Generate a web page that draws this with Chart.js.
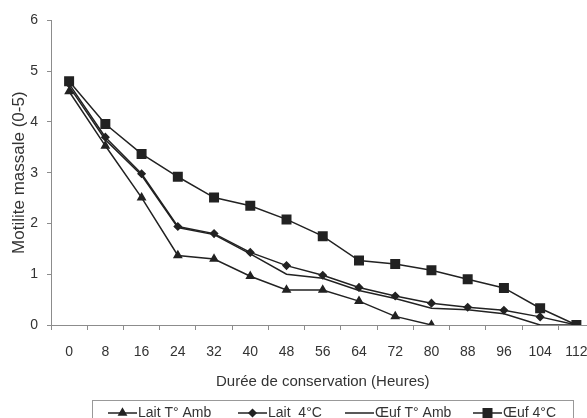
<!DOCTYPE html>
<html>
<head>
<meta charset="utf-8">
<script src="https://cdn.jsdelivr.net/npm/chart.js@4"></script>
<style>
  html, body { margin: 0; padding: 0; background: #fff; overflow: hidden; }
  #wrap { width: 602px; height: 415px; padding-top: 3px; }
</style>
</head>
<body>
<div id="wrap"><canvas id="motiliteChart" width="602" height="415"></canvas></div>
<script>
// heures de conservation
const heures = ['0', '8', '16', '24', '32', '40', '48', '56', '64', '72', '80', '88', '96', '104', '112'];
const laitAmb = [4.6, 3.53, 2.51, 1.37, 1.3, 0.96, 0.69, 0.69, 0.47, 0.17, 0, null, null, null, null];
const lait4 = [4.75, 3.7, 2.98, 1.94, 1.8, 1.43, 1.17, 0.98, 0.74, 0.57, 0.43, 0.35, 0.29, 0.16, 0];
const oeufAmb = [4.7, 3.65, 2.95, 1.92, 1.78, 1.4, 1.0, 0.92, 0.68, 0.52, 0.33, 0.3, 0.22, 0, 0];
const oeuf4 = [4.8, 3.96, 3.37, 2.92, 2.51, 2.35, 2.08, 1.75, 1.27, 1.2, 1.08, 0.9, 0.73, 0.33, 0];
const yTicks = [0, 1, 2, 3, 4, 5, 6];

const FONT = 'Liberation Sans, Arial, sans-serif';
const INK = '#222';

// legende dessinee a la main (ligne + marqueur comme dans Excel)
const legendBox = {
    id: 'legendBox',
    afterDraw(chart) {
        const ctx = chart.ctx;
        ctx.save();
        ctx.strokeStyle = '#999';
        ctx.lineWidth = 1;
        ctx.strokeRect(92.5, 397.5, 481, 30);
        ctx.font = '14px ' + FONT;
        ctx.textBaseline = 'middle';
        const xs = [108, 238, 345, 473];
        const y = 410;
        chart.data.datasets.forEach((ds, i) => {
            const x = xs[i];
            ctx.strokeStyle = INK;
            ctx.lineWidth = 1.5;
            ctx.beginPath();
            ctx.moveTo(x, y);
            ctx.lineTo(x + 29, y);
            ctx.stroke();
            if (ds.pointRadius > 0) {
                ctx.fillStyle = INK;
                Chart.helpers.drawPoint(ctx, {
                    pointStyle: ds.pointStyle,
                    radius: ds.pointRadius,
                    borderWidth: 1
                }, x + 14.5, y);
            }
            ctx.fillStyle = '#333';
            ctx.fillText(ds.label, x + 30, y);
        });
        ctx.restore();
    }
};

function serie(label, data, style, radius) {
    return {
        label: label,
        data: data,
        borderColor: INK,
        backgroundColor: INK,
        borderWidth: 1.5,
        pointStyle: style,
        pointRadius: radius,
        pointBorderColor: INK,
        pointBackgroundColor: INK,
        tension: 0,
        spanGaps: false
    };
}

new Chart(document.getElementById('motiliteChart').getContext('2d'), {
    type: 'line',
    data: {
        labels: heures,
        datasets: [
            serie('Lait T° Amb', laitAmb, 'triangle', 4.2),
            serie('Lait  4°C', lait4, 'rectRot', 3.5),
            serie('Œuf T° Amb', oeufAmb, 'circle', 0),
            serie('Œuf 4°C', oeuf4, 'rect', 6)
        ]
    },
    options: {
        responsive: false,
        animation: false,
        layout: { padding: { left: 0, top: 15, right: 3, bottom: 27 } },
        plugins: {
            legend: { display: false },
            tooltip: { enabled: false }
        },
        scales: {
            x: {
                type: 'category',
                offset: true,
                afterFit: axis => { axis.height = 66; },
                border: { color: '#8c8c8c', width: 1 },
                grid: { offset: true, drawOnChartArea: false, tickLength: 5, color: '#8c8c8c' },
                ticks: { color: '#333', font: { family: FONT, size: 14 }, padding: 14, maxRotation: 0, autoSkip: false },
                title: {
                    display: true,
                    text: 'Durée de conservation (Heures)',
                    color: '#333',
                    font: { family: FONT, size: 15 },
                    padding: { top: 0, bottom: 0 }
                }
            },
            y: {
                min: 0,
                max: 6,
                afterBuildTicks: axis => { axis.ticks = yTicks.map(v => ({ value: v })); },
                afterFit: axis => { axis.width = 51; },
                border: { color: '#8c8c8c', width: 1 },
                grid: { drawOnChartArea: false, tickLength: 4, color: '#8c8c8c' },
                ticks: { color: '#333', font: { family: FONT, size: 14 }, padding: 9 },
                title: {
                    display: true,
                    text: 'Motilite massale (0-5)',
                    color: '#333',
                    font: { family: FONT, size: 17 },
                    padding: { top: 9, bottom: 0 }
                }
            }
        }
    },
    plugins: [legendBox]
});
</script>
</body>
</html>
